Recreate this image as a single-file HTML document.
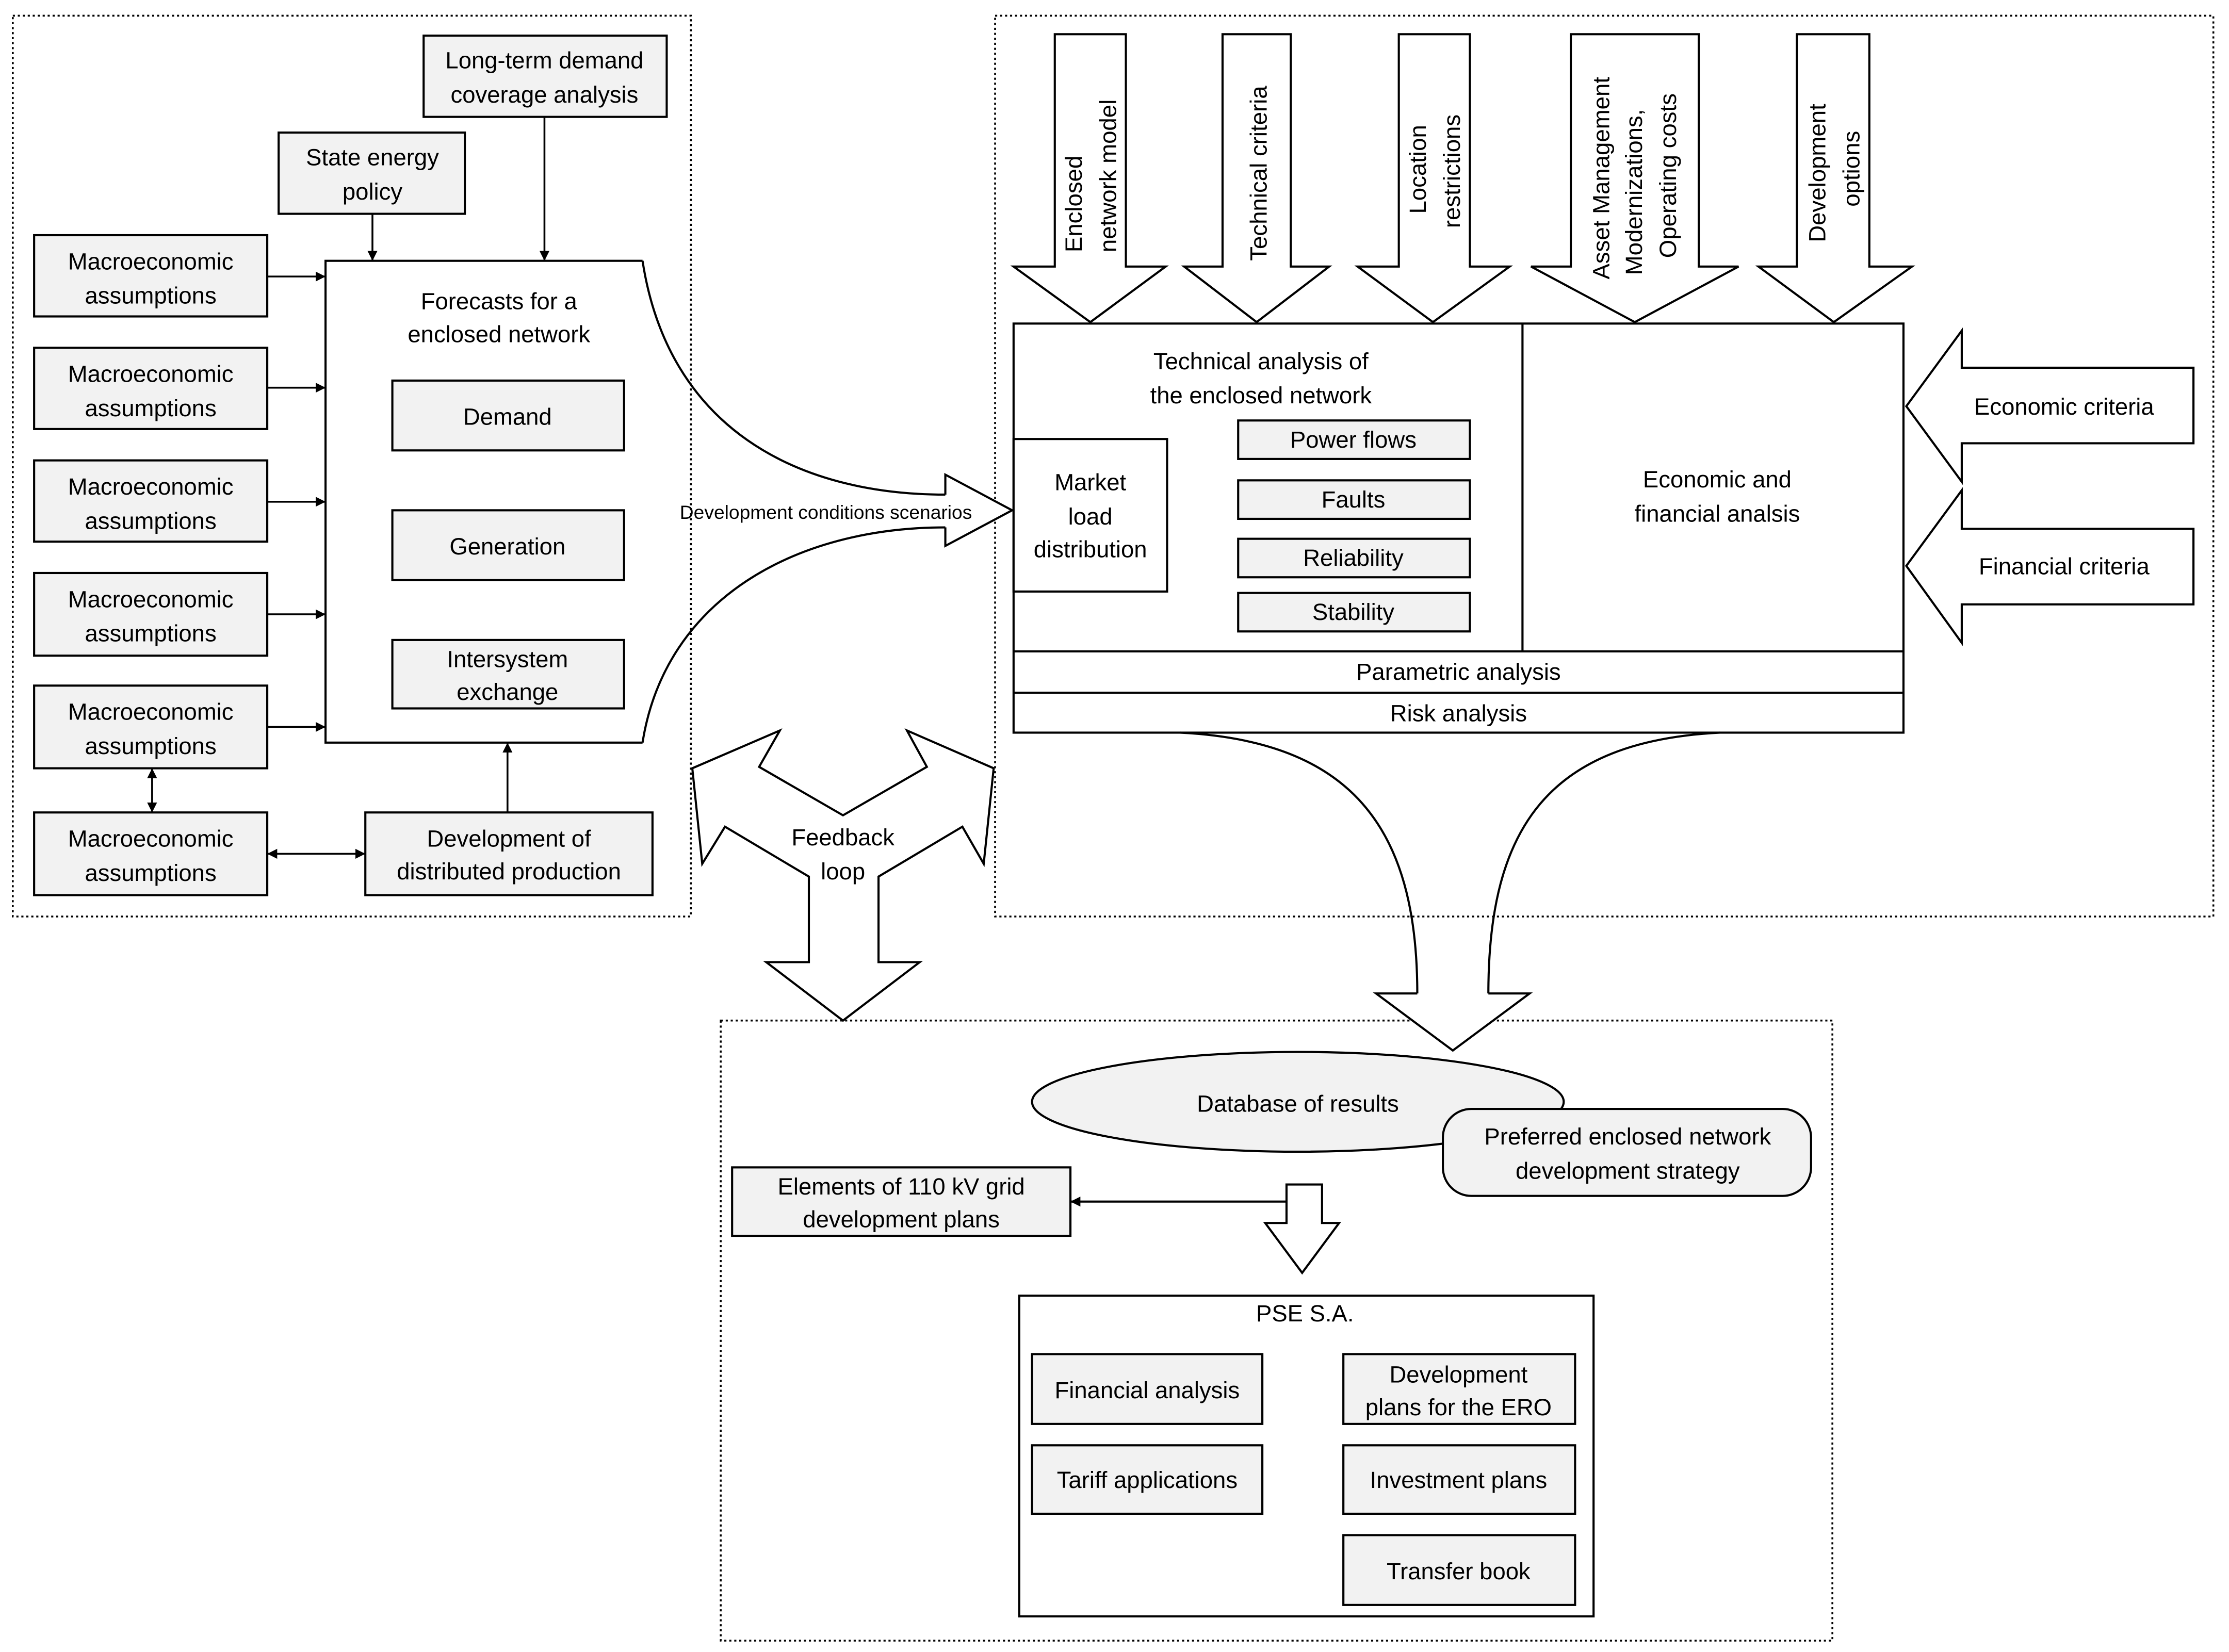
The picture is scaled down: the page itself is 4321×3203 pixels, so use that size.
<!DOCTYPE html>
<html><head><meta charset="utf-8"><style>
html,body{margin:0;padding:0;background:#fff;}
svg{display:block;}
text{font-family:"Liberation Sans",sans-serif;font-size:16.5px;fill:#000;}
</style></head><body>
<svg width="4321" height="3203" viewBox="0 0 1568 1159" preserveAspectRatio="none" xmlns="http://www.w3.org/2000/svg">
<defs>
<marker id="ah" viewBox="0 0 10 10" refX="10" refY="5" markerWidth="7" markerHeight="7" markerUnits="userSpaceOnUse" orient="auto-start-reverse"><path d="M0,0 L10,5 L0,10 z" fill="#000"/></marker>
</defs>
<g fill="none" stroke="#000" stroke-width="1.3" stroke-dasharray="1.5,2">
<rect x="9" y="11" width="477" height="632"/>
<rect x="700" y="11" width="857" height="632"/>
<rect x="507" y="716" width="782" height="435"/>
</g>
<g stroke="#000" stroke-width="1.5" fill="#f2f2f2">
<rect x="298" y="25" width="171" height="57"/>
<rect x="196" y="93" width="131" height="57"/>
<rect x="24" y="165" width="164" height="57"/>
<rect x="24" y="244" width="164" height="57"/>
<rect x="24" y="323" width="164" height="57"/>
<rect x="24" y="402" width="164" height="58"/>
<rect x="24" y="481" width="164" height="58"/>
<rect x="24" y="570" width="164" height="58"/>
<rect x="257" y="570" width="202" height="58"/>
</g>
<path d="M452,183 L229,183 L229,521 L452,521" fill="#fff" stroke="#000" stroke-width="1.5"/>
<g stroke="#000" stroke-width="1.5" fill="#f2f2f2">
<rect x="276" y="267" width="163" height="49"/>
<rect x="276" y="358" width="163" height="49"/>
<rect x="276" y="449" width="163" height="48"/>
</g>
<g stroke="#000" stroke-width="1.3" fill="none">
<line x1="188" y1="194" x2="229" y2="194" marker-end="url(#ah)"/>
<line x1="188" y1="272" x2="229" y2="272" marker-end="url(#ah)"/>
<line x1="188" y1="352" x2="229" y2="352" marker-end="url(#ah)"/>
<line x1="188" y1="431" x2="229" y2="431" marker-end="url(#ah)"/>
<line x1="188" y1="510" x2="229" y2="510" marker-end="url(#ah)"/>
<line x1="107" y1="539" x2="107" y2="570" marker-start="url(#ah)" marker-end="url(#ah)"/>
<line x1="188" y1="599" x2="257" y2="599" marker-start="url(#ah)" marker-end="url(#ah)"/>
<line x1="357" y1="570" x2="357" y2="521" marker-end="url(#ah)"/>
<line x1="262" y1="150" x2="262" y2="183" marker-end="url(#ah)"/>
<line x1="383" y1="82" x2="383" y2="183" marker-end="url(#ah)"/>
</g>
<g stroke="#000" stroke-width="1.5" fill="none">
<path d="M452,183 C470,300 560,347 665,347"/>
<path d="M452,521 C468,420 560,370 665,370"/>
</g>
<path d="M665,347 L665,333 L712,358 L665,383 L665,370" fill="#fff" stroke="#000" stroke-width="1.5"/>
<text x="581" y="364" text-anchor="middle" style="font-size:13.5px">Development conditions scenarios</text>
<g font-size="16.5" text-anchor="middle">
<text x="383" y="48" text-anchor="middle">Long-term demand</text>
<text x="383" y="72" text-anchor="middle">coverage analysis</text>
<text x="262" y="116" text-anchor="middle">State energy</text>
<text x="262" y="140" text-anchor="middle">policy</text>
<text x="106" y="189" text-anchor="middle">Macroeconomic</text><text x="106" y="213" text-anchor="middle">assumptions</text>
<text x="106" y="268" text-anchor="middle">Macroeconomic</text><text x="106" y="292" text-anchor="middle">assumptions</text>
<text x="106" y="347" text-anchor="middle">Macroeconomic</text><text x="106" y="371" text-anchor="middle">assumptions</text>
<text x="106" y="426" text-anchor="middle">Macroeconomic</text><text x="106" y="450" text-anchor="middle">assumptions</text>
<text x="106" y="505" text-anchor="middle">Macroeconomic</text><text x="106" y="529" text-anchor="middle">assumptions</text>
<text x="106" y="594" text-anchor="middle">Macroeconomic</text><text x="106" y="618" text-anchor="middle">assumptions</text>
<text x="358" y="594" text-anchor="middle">Development of</text><text x="358" y="617" text-anchor="middle">distributed production</text>
<text x="351" y="217" text-anchor="middle">Forecasts for a</text><text x="351" y="240" text-anchor="middle">enclosed network</text>
<text x="357" y="298" text-anchor="middle">Demand</text>
<text x="357" y="389" text-anchor="middle">Generation</text>
<text x="357" y="468" text-anchor="middle">Intersystem</text><text x="357" y="491" text-anchor="middle">exchange</text>
</g>
<!-- top arrows -->
<g stroke="#000" stroke-width="1.5" fill="#fff">
<path d="M742,24 L792,24 L792,187 L820,187 L767,226 L713,187 L742,187 Z"/>
<path d="M860,24 L908,24 L908,187 L935,187 L884,226 L833,187 L860,187 Z"/>
<path d="M984,24 L1034,24 L1034,187 L1062,187 L1008,226 L955,187 L984,187 Z"/>
<path d="M1105,24 L1195,24 L1195,187 L1223,187 L1150,226 L1077,187 L1105,187 Z"/>
<path d="M1264,24 L1315,24 L1315,187 L1345,187 L1290,226 L1237,187 L1264,187 Z"/>
</g>
<g>
<text transform="translate(761,177) rotate(-90)">Enclosed</text>
<text transform="translate(785,177) rotate(-90)">network model</text>
<text transform="translate(891,183) rotate(-90)">Technical criteria</text>
<text transform="translate(1003,150) rotate(-90)">Location</text>
<text transform="translate(1027,160) rotate(-90)">restrictions</text>
<text transform="translate(1132,196) rotate(-90)">Asset Management</text>
<text transform="translate(1155,193) rotate(-90)">Modernizations,</text>
<text transform="translate(1179,181) rotate(-90)">Operating costs</text>
<text transform="translate(1284,170) rotate(-90)">Development</text>
<text transform="translate(1308,145) rotate(-90)">options</text>
</g>
<!-- main box -->
<g stroke="#000" stroke-width="1.5" fill="none">
<rect x="713" y="227" width="626" height="287" fill="#fff"/>
<line x1="1071" y1="227" x2="1071" y2="457"/>
<line x1="713" y1="457" x2="1339" y2="457"/>
<line x1="713" y1="486" x2="1339" y2="486"/>
<rect x="713" y="308" width="108" height="107" fill="#fff"/>
</g>
<g stroke="#000" stroke-width="1.5" fill="#f2f2f2">
<rect x="871" y="295" width="163" height="27"/>
<rect x="871" y="337" width="163" height="27"/>
<rect x="871" y="378" width="163" height="27"/>
<rect x="871" y="416" width="163" height="27"/>
</g>
<g text-anchor="middle">
<text x="887" y="259" text-anchor="middle">Technical analysis of</text>
<text x="887" y="283" text-anchor="middle">the enclosed network</text>
<text x="767" y="344" text-anchor="middle">Market</text>
<text x="767" y="368" text-anchor="middle">load</text>
<text x="767" y="391" text-anchor="middle">distribution</text>
<text x="952" y="314" text-anchor="middle">Power flows</text>
<text x="952" y="356" text-anchor="middle">Faults</text>
<text x="952" y="397" text-anchor="middle">Reliability</text>
<text x="952" y="435" text-anchor="middle">Stability</text>
<text x="1208" y="342" text-anchor="middle">Economic and</text>
<text x="1208" y="366" text-anchor="middle">financial analsis</text>
<text x="1026" y="477" text-anchor="middle">Parametric analysis</text>
<text x="1026" y="506" text-anchor="middle">Risk analysis</text>
</g>
<!-- left arrows -->
<g stroke="#000" stroke-width="1.5" fill="#fff">
<path d="M1543,258 L1380,258 L1380,232 L1341,285 L1380,338 L1380,311 L1543,311 Z"/>
<path d="M1543,371 L1380,371 L1380,344 L1341,397 L1380,451 L1380,424 L1543,424 Z"/>
</g>
<text x="1452" y="291" text-anchor="middle">Economic criteria</text>
<text x="1452" y="403" text-anchor="middle">Financial criteria</text>
<!-- bottom curves and arrow -->
<g stroke="#000" stroke-width="1.5" fill="none">
<path d="M830,514 C950,520 997,580 997,697"/>
<path d="M1210,514 C1090,520 1047,580 1047,697"/>
</g>
<path d="M997,697 L968,697 L1022,737 L1076,697 L1047,697" fill="#fff" stroke="#000" stroke-width="1.5"/>
<!-- feedback loop -->
<path d="M487,539 L548.6,512.5 L534,538 L593,572 L652,538 L638,512.5 L699,539 L692,606 L677,580 L618,615 L618,675 L647,675 L593,716 L539,675 L569,675 L569,615 L510,580 L494,606 Z" fill="#fff" stroke="#000" stroke-width="1.5"/>
<text x="593" y="593" text-anchor="middle">Feedback</text>
<text x="593" y="617" text-anchor="middle">loop</text>
<!-- bottom section -->
<ellipse cx="913" cy="773" rx="187" ry="35" fill="#f2f2f2" stroke="#000" stroke-width="1.5"/>
<text x="913" y="780" text-anchor="middle">Database of results</text>
<rect x="1015" y="778" width="259" height="61" rx="20" fill="#f2f2f2" stroke="#000" stroke-width="1.5"/>
<text x="1145" y="803" text-anchor="middle">Preferred enclosed network</text>
<text x="1145" y="827" text-anchor="middle">development strategy</text>
<rect x="515" y="819" width="238" height="48" fill="#f2f2f2" stroke="#000" stroke-width="1.5"/>
<text x="634" y="838" text-anchor="middle">Elements of 110 kV grid</text>
<text x="634" y="861" text-anchor="middle">development plans</text>
<line x1="905" y1="843" x2="753" y2="843" stroke="#000" stroke-width="1.5" marker-end="url(#ah)"/>
<path d="M905,831 L930,831 L930,858 L942,858 L916,893 L890,858 L905,858 Z" fill="#fff" stroke="#000" stroke-width="1.5"/>
<rect x="717" y="909" width="404" height="225" fill="#fff" stroke="#000" stroke-width="1.5"/>
<text x="918" y="927" text-anchor="middle">PSE S.A.</text>
<g stroke="#000" stroke-width="1.5" fill="#f2f2f2">
<rect x="726" y="950" width="162" height="49"/>
<rect x="726" y="1014" width="162" height="48"/>
<rect x="945" y="950" width="163" height="49"/>
<rect x="945" y="1014" width="163" height="48"/>
<rect x="945" y="1077" width="163" height="49"/>
</g>
<text x="807" y="981" text-anchor="middle">Financial analysis</text>
<text x="807" y="1044" text-anchor="middle">Tariff applications</text>
<text x="1026" y="970" text-anchor="middle">Development</text>
<text x="1026" y="993" text-anchor="middle">plans for the ERO</text>
<text x="1026" y="1044" text-anchor="middle">Investment plans</text>
<text x="1026" y="1108" text-anchor="middle">Transfer book</text>
</svg>
</body></html>
